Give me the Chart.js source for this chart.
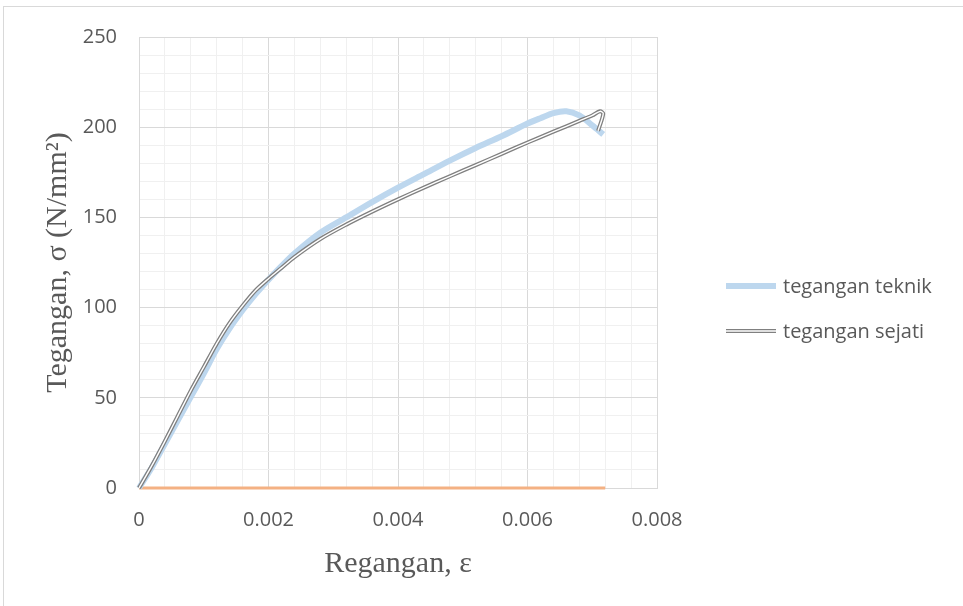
<!DOCTYPE html>
<html>
<head>
<meta charset="utf-8">
<script src="https://cdn.jsdelivr.net/npm/chart.js@4.4.1/dist/chart.umd.min.js"></script>
<style>
  html, body { margin: 0; padding: 0; background: #fff; overflow: hidden; }
  #frame { position: absolute; left: 3px; top: 6px; width: 975px; height: 620px; border: 1px solid #d9d9d9; box-sizing: border-box; }
  #stressChart { position: absolute; left: 0; top: 0; }
</style>
</head>
<body>
<div id="frame"></div>
<canvas id="stressChart" width="963" height="606"></canvas>
<script>
// Engineering stress-strain (tegangan teknik)
const strainTeknik = [0, 0.0002, 0.0004, 0.0006, 0.0008, 0.001, 0.0012, 0.0014, 0.0016, 0.0018, 0.002, 0.0022, 0.0024, 0.0028, 0.0032, 0.0036, 0.004, 0.0044, 0.0048, 0.0052, 0.0056, 0.006, 0.0062, 0.0064, 0.0066, 0.0068, 0.007, 0.00717];
const stressTeknik = [0, 11.5, 24.5, 37.5, 50.5, 63.5, 77, 88.5, 98.5, 107.5, 115.5, 123, 130, 141.5, 150, 158.5, 166.5, 174, 181.5, 188.5, 195, 202, 205, 207.8, 208.8, 206.5, 201, 196];

// True stress-strain (tegangan sejati)
const strainSejati = [0, 0.0002, 0.0004, 0.0006, 0.0008, 0.001, 0.0012, 0.0014, 0.0016, 0.0018, 0.002, 0.0022, 0.0024, 0.0028, 0.0032, 0.0036, 0.004, 0.0044, 0.0048, 0.0052, 0.0056, 0.006, 0.0064, 0.0068, 0.007, 0.00712, 0.00717, 0.00709];
const stressSejati = [0, 12.5, 26, 40, 54, 67, 80, 91.5, 101, 109.5, 116, 122, 128, 138, 146, 153.2, 160, 166.5, 172.8, 179, 185.2, 191.5, 197.5, 203.5, 206.5, 208.8, 207.5, 198];

// third (unnamed) series lying on zero
const strainZero = [0, 0.0072];
const stressZero = [0, 0];

// axis settings
const xMax = 0.008, xMinorStep = 0.0004, xMajorEvery = 5;
const yMax = 250, yMinorStep = 10, yMajorEvery = 5;

const labelTeknik = 'tegangan teknik';
const labelSejati = 'tegangan sejati';

const tickFont = { family: "'Open Sans', 'Noto Sans', sans-serif", size: 20 };
const titleFont = { family: "'Liberation Serif', 'DejaVu Serif', serif", size: 30 };
const textGray = '#595959';

function toPoints(xs, ys) {
  return xs.map((x, i) => ({ x, y: ys[i] }));
}

function isMajor(value, step, every) {
  return Math.round(value / step) % every === 0;
}

// custom legend drawn next to the plot area, matching the line styles
const sideLegend = {
  id: 'sideLegend',
  afterDraw(chart) {
    const ctx = chart.ctx;
    const items = [
      { label: labelTeknik, layers: [{ color: '#bdd7ee', width: 6 }] },
      { label: labelSejati, layers: [{ color: '#808080', width: 4 }, { color: '#ffffff', width: 1.4 }] }
    ];
    const x0 = 726, x1 = 776, textX = 783;
    const ys = [286, 331];
    ctx.save();
    items.forEach((item, i) => {
      item.layers.forEach(l => {
        ctx.beginPath();
        ctx.strokeStyle = l.color;
        ctx.lineWidth = l.width;
        ctx.moveTo(x0, ys[i]);
        ctx.lineTo(x1, ys[i]);
        ctx.stroke();
      });
      ctx.fillStyle = textGray;
      ctx.font = `${tickFont.size}px ${tickFont.family}`;
      ctx.textBaseline = 'middle';
      ctx.textAlign = 'left';
      ctx.fillText(item.label, textX, ys[i] + 1);
    });
    ctx.restore();
  }
};

new Chart(document.getElementById('stressChart'), {
  type: 'line',
  data: {
    datasets: [
      {
        label: '',
        data: toPoints(strainSejati, stressSejati),
        borderColor: '#ffffff',
        borderWidth: 1.4,
        pointRadius: 0,
        tension: 0.3,
        clip: false,
        order: 0
      },
      {
        label: labelSejati,
        data: toPoints(strainSejati, stressSejati),
        borderColor: '#808080',
        borderWidth: 4,
        pointRadius: 0,
        tension: 0.3,
        clip: false,
        order: 1
      },
      {
        label: labelTeknik,
        data: toPoints(strainTeknik, stressTeknik),
        borderColor: '#bdd7ee',
        borderWidth: 6,
        pointRadius: 0,
        tension: 0.3,
        borderCapStyle: 'butt',
        clip: false,
        order: 2
      },
      {
        label: '',
        data: toPoints(strainZero, stressZero),
        borderColor: '#f4b183',
        borderWidth: 3,
        pointRadius: 0,
        clip: false,
        order: 3
      }
    ]
  },
  options: {
    responsive: false,
    animation: false,
    devicePixelRatio: 1,
    layout: { padding: { top: 37, right: 306, bottom: 0, left: 0 } },
    plugins: {
      legend: { display: false },
      tooltip: { enabled: false }
    },
    scales: {
      x: {
        type: 'linear',
        min: 0,
        max: xMax,
        afterFit(scale) { scale.height = 118; },
        ticks: {
          stepSize: xMinorStep,
          autoSkip: false,
          maxRotation: 0,
          padding: 20,
          color: textGray,
          font: tickFont,
          callback: v => isMajor(v, xMinorStep, xMajorEvery) ? String(+v.toFixed(4)) : ''
        },
        grid: {
          drawTicks: false,
          color: c => isMajor(c.tick.value, xMinorStep, xMajorEvery) ? '#d9d9d9' : '#f0f0f0'
        },
        border: { color: '#d9d9d9' },
        title: {
          display: true,
          text: 'Regangan, ε',
          color: textGray,
          font: titleFont,
          padding: { top: 0, bottom: 24 }
        }
      },
      y: {
        min: 0,
        max: yMax,
        afterFit(scale) { scale.width = 139; },
        ticks: {
          stepSize: yMinorStep,
          autoSkip: false,
          padding: 22,
          color: textGray,
          font: tickFont,
          callback: v => isMajor(v, yMinorStep, yMajorEvery) ? String(v) : ''
        },
        grid: {
          drawTicks: false,
          color: c => isMajor(c.tick.value, yMinorStep, yMajorEvery) ? '#d9d9d9' : '#f0f0f0'
        },
        border: { color: '#d9d9d9' },
        title: {
          display: true,
          text: 'Tegangan, σ (N/mm²)',
          color: textGray,
          font: titleFont,
          padding: { top: 40, bottom: 0 }
        }
      }
    }
  },
  plugins: [sideLegend]
});
</script>
</body>
</html>
